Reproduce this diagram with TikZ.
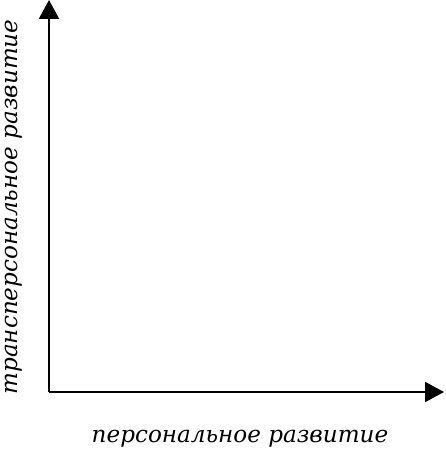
\documentclass[tikz,border=0pt]{standalone}
\usepackage{fontspec}
\setmainfont{DejaVu Serif}
\usetikzlibrary{arrows.meta}
\begin{document}
\begin{tikzpicture}[x=1pt,y=1pt,
    axis/.style={line width=2.2pt, -{Triangle[length=19pt,width=20pt]}},
    axislabel/.style={font=\fontsize{23.1}{27}\selectfont\itshape, inner sep=0pt, anchor=base}]
        \useasboundingbox (0,0) rectangle (445,450);

        \coordinate (O) at (49,58);
        \coordinate (X) at (444,58);
        \coordinate (Y) at (49,450);

        \draw[axis] (O) -- (X);
        \draw[axis] (O) -- (Y);

        \node[axislabel] (xlabel) at (240,8) {персональное развитие};
        \node[axislabel, rotate=90] (ylabel) at (17.5,243) {трансперсональное развитие};
    \end{tikzpicture}
\end{document}
